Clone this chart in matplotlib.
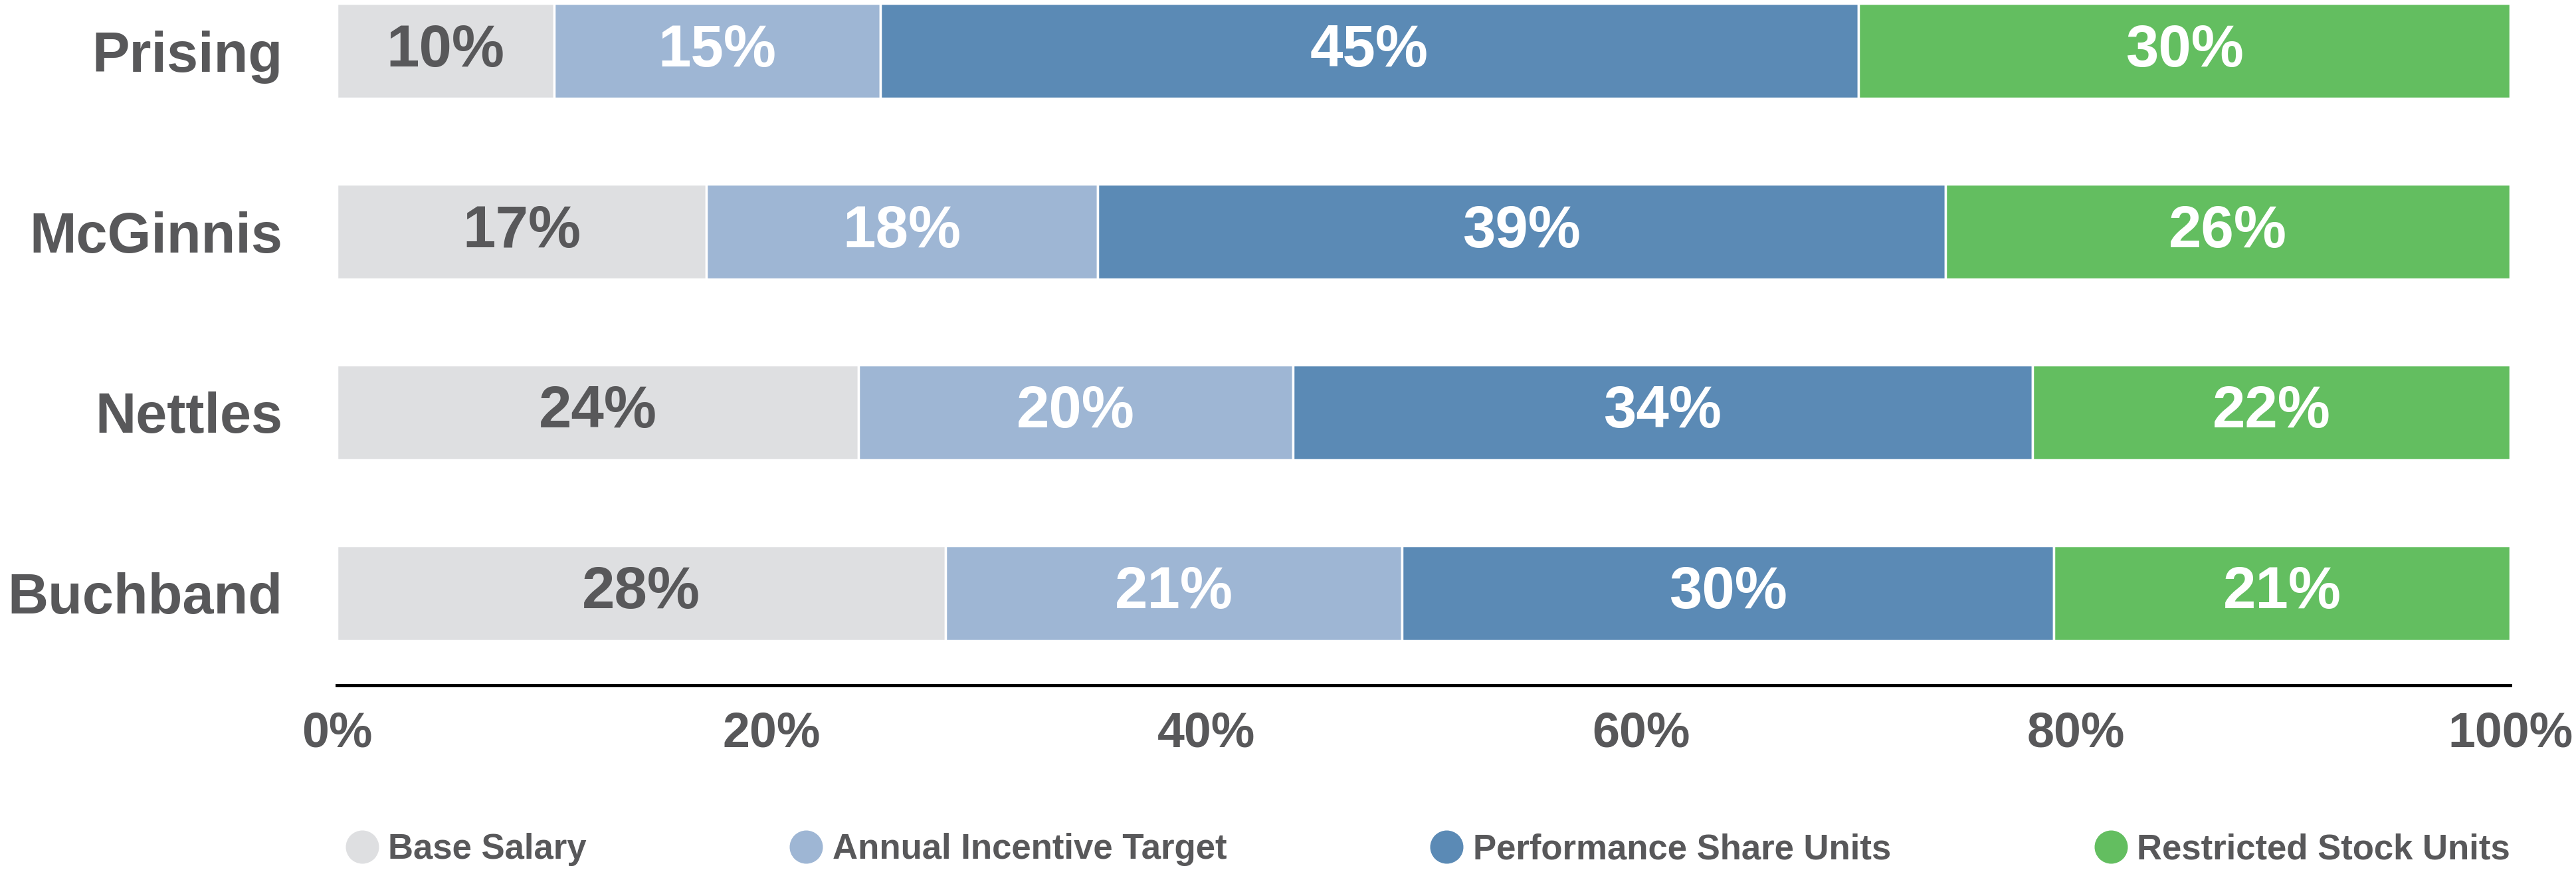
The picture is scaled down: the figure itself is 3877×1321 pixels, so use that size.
"""Stacked horizontal bars of pay mix per executive"""

import matplotlib
matplotlib.use("Agg")
import matplotlib.pyplot as plt
from matplotlib.lines import Line2D

plt.rcParams['font.family'] = ['Liberation Sans', 'DejaVu Sans']
plt.rcParams['font.weight'] = 'bold'

# data
names = ["Prising", "McGinnis", "Nettles", "Buchband"]
components = ["Base Salary", "Annual Incentive Target",
              "Performance Share Units", "Restricted Stock Units"]
base_salary = [10, 17, 24, 28]
annual_incentive = [15, 18, 20, 21]
performance_units = [45, 39, 34, 30]
restricted_units = [30, 26, 22, 21]
tick_values = [0, 20, 40, 60, 80, 100]

series = [base_salary, annual_incentive, performance_units, restricted_units]
colors = ["#DEDFE1", "#9EB6D4", "#5B8AB5", "#63BE60"]
label_colors = ["#58585A", "white", "white", "white"]
TEXT = "#58585A"

fig = plt.figure(figsize=(38.77, 13.21), dpi=100)
ax = fig.add_axes([0.1308, 0.2195, 0.8437, 0.7805])

ypos = list(range(len(names)))
left = [0] * len(names)
for vals, col, lcol in zip(series, colors, label_colors):
    ax.barh(ypos, vals, left=left, height=0.526, color=col,
            edgecolor="white", linewidth=2.5)
    for y, v, l in zip(ypos, vals, left):
        ax.text(l + v / 2, y, f"{v}%", ha="center", va="center",
                fontsize=64, color=lcol, fontweight="bold")
    left = [a + b for a, b in zip(left, vals)]

ax.set_xlim(0, 100)
ax.set_ylim(3.51, -0.282)
ax.set_yticks(ypos)
# a bit smaller than the original, which uses a condensed face
ax.set_yticklabels(names, fontsize=61, color=TEXT, fontweight="bold")
ax.set_xticks(tick_values)
ax.set_xticklabels([f"{t}%" for t in tick_values], fontsize=53,
                   color=TEXT, fontweight="bold")
ax.tick_params(axis="y", length=0, pad=59)
ax.tick_params(axis="x", length=0, pad=28)

for side in ["top", "right", "left"]:
    ax.spines[side].set_visible(False)
ax.spines["bottom"].set_linewidth(3.6)
ax.spines["bottom"].set_color("black")

# legend, spread over the width of the bars
handles = [Line2D([], [], marker="o", linestyle="none", markersize=35,
                  markerfacecolor=c, markeredgecolor=c) for c in colors]
leg = fig.legend(handles, components, loc="center", mode="expand",
                 bbox_to_anchor=(0.135, 0.0, 0.8395, 0.065), ncol=4,
                 frameon=False, fontsize=38, handlelength=0.8,
                 handletextpad=0.35, borderpad=0, borderaxespad=0)
for t in leg.get_texts():
    t.set_color(TEXT)
    t.set_fontweight("bold")

fig.savefig("out.png", dpi=100)
